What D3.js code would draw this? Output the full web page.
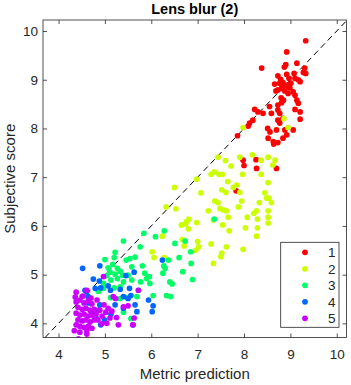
<!DOCTYPE html>
<html>
<head>
<meta charset="utf-8">
<script src="https://cdn.jsdelivr.net/npm/d3@7"></script>
<style>
  body { margin: 0; background: #fff; }
  svg { display: block; font-family: "Liberation Sans", Arial, Helvetica, sans-serif; }
</style>
</head>
<body>
<svg id="chart" width="351" height="385"></svg>
<script>
// ---- data ----
const title = "Lens blur (2)";
const xLabel = "Metric prediction";
const yLabel = "Subjective score";
const groups = ["1", "2", "3", "4", "5"];
const groupColors = ["#ff0000", "#ccff00", "#00ff66", "#0066ff", "#cc00ff"];
const xTicks = [4, 5, 6, 7, 8, 9, 10];
const yTicks = [4, 5, 6, 7, 8, 9, 10];

const group1 = [
  [9.33,9.80],[8.92,9.57],[8.38,9.24],[8.90,9.31],[8.87,9.26],[9.14,9.34],[9.31,9.24],[9.28,9.15],[9.33,9.13],
  [8.73,9.08],[8.79,9.01],[8.92,9.11],[8.97,9.03],[9.08,9.13],[8.66,8.91],[8.77,8.93],[8.84,8.94],[8.90,8.89],
  [8.95,8.86],[9.01,8.93],[9.10,9.03],[9.17,9.00],[8.73,8.79],[8.81,8.82],[8.88,8.77],[8.95,8.72],[9.06,8.75],
  [9.10,8.68],[9.14,8.58],[9.17,8.52],[8.81,8.53],[8.73,8.48],[8.73,8.38],[8.77,8.31],[8.23,8.39],[8.30,8.34],
  [8.41,8.31],[8.55,8.45],[8.59,8.31],[9.10,8.39],[9.21,8.34],[9.21,8.19],[8.19,8.17],[8.12,8.11],[8.09,8.05],
  [8.73,8.17],[8.77,8.11],[8.70,7.97],[8.88,7.97],[8.92,7.87],[8.84,7.80],[9.06,7.97],[8.51,8.00],[8.56,7.93],
  [8.52,7.80],[8.63,7.73],[8.73,7.71],[7.86,7.85],[8.64,7.68],[7.98,7.35],[8.00,7.24],[8.26,7.36],[8.27,7.18],
  [8.70,7.18],[7.83,6.72],[9.21,8.96],[8.82,8.85],[8.99,8.83],[8.69,8.77],[8.84,8.21],[8.85,8.58],[8.80,8.63]
];
const group2 = [
  [7.98,8.02],[8.86,8.20],[8.95,8.02],[7.44,7.41],[7.91,7.41],[8.18,7.46],[8.37,7.35],[8.52,7.41],[8.67,7.35],
  [8.62,7.25],[7.60,7.34],[7.72,7.23],[7.36,7.11],[7.29,7.06],[7.46,7.06],[7.53,7.06],[7.97,7.06],[8.37,7.06],
  [6.98,6.96],[7.65,6.91],[7.84,6.84],[7.77,6.79],[8.52,6.89],[6.50,6.79],[7.52,6.74],[7.61,6.69],[7.91,6.69],
  [7.07,6.68],[8.45,6.68],[8.49,6.57],[8.54,6.57],[8.59,6.48],[7.37,6.51],[7.44,6.48],[7.95,6.51],[6.32,6.39],
  [6.53,6.35],[7.88,6.39],[8.33,6.48],[7.23,6.31],[7.48,6.36],[7.55,6.33],[7.62,6.31],[8.27,6.31],[8.21,6.26],
  [8.52,6.31],[8.07,6.18],[7.66,6.18],[8.29,6.14],[8.52,6.18],[6.81,6.14],[6.76,6.09],[6.65,6.02],[6.74,6.04],
  [6.98,6.07],[7.34,6.12],[7.54,6.02],[8.03,5.96],[8.29,5.96],[8.52,6.06],[6.80,5.94],[7.68,5.90],[8.27,5.79],
  [6.24,5.79],[6.67,5.72],[6.71,5.59],[7.00,5.68],[7.02,5.57],[7.29,5.63],[7.62,5.57],[7.52,5.44],[7.50,5.37],
  [7.98,5.52],[6.02,5.47],[6.06,5.35],[6.28,5.35],[7.34,5.23],[6.96,5.50]
];
const group3 = [
  [5.84,5.85],[6.28,5.90],[6.09,5.78],[5.40,5.69],[5.76,5.57],[5.22,5.46],[5.65,5.36],[5.00,5.31],[6.51,5.64],
  [6.73,5.69],[6.85,5.47],[7.36,6.14],[6.60,5.35],[6.27,5.18],[6.30,5.13],[6.25,5.03],[6.86,5.23],[6.68,5.06],
  [5.86,5.03],[5.90,4.92],[5.96,4.96],[5.97,4.82],[6.40,4.85],[6.45,4.81],[6.89,4.90],[6.33,4.57],[6.42,4.55],
  [6.04,4.57],[5.81,5.18],[6.37,5.30],[5.17,5.21],[5.27,5.13],[5.33,5.07],[5.11,5.05],[5.22,5.01],[5.38,4.99],
  [5.04,4.98],[5.13,4.89],[5.27,4.92],[5.40,4.85],[4.97,4.82],[5.20,4.73],[4.97,4.72],[4.86,4.66],[5.12,4.53],
  [5.33,4.51],[5.47,4.53],[5.40,4.23],[5.56,4.10],[5.69,4.55],[5.58,5.16],[5.46,5.30],[5.54,5.33],[5.50,4.99],
  [5.58,4.89],[5.33,4.75],[5.07,5.14],[5.77,4.85],[5.73,4.68],[5.20,5.35]
];
const group4 = [
  [4.52,5.13],[4.89,5.18],[4.75,4.91],[4.88,4.87],[5.45,4.98],[5.63,5.05],[4.57,4.68],[4.61,4.65],[4.64,4.55],
  [4.79,4.72],[4.91,4.73],[5.07,4.77],[5.12,4.68],[5.33,4.70],[5.53,4.72],[5.56,4.57],[5.50,4.51],[5.40,4.55],
  [4.89,4.38],[4.86,4.27],[5.22,4.38],[5.40,4.31],[5.65,4.38],[5.69,4.24],[4.82,4.10],[4.91,3.97],[4.99,4.07],
  [5.61,3.97],[6.24,5.30],[5.94,4.48],[6.04,4.36],[6.02,4.24],[4.64,4.42],[4.72,4.23],[5.13,4.19]
];
const group5 = [
  [4.38,4.64],[4.61,4.68],[4.97,4.96],[5.18,4.55],[5.23,4.51],[5.72,4.68],[5.50,4.36],[5.40,4.34],[5.25,4.12],
  [5.04,4.00],[4.93,3.99],[5.29,3.97],[5.60,3.97],[5.63,4.11],[4.34,3.85],[4.46,3.82],[4.43,3.68],[4.61,3.78],
  [4.38,4.44],[4.46,4.48],[4.55,4.42],[4.64,4.46],[4.72,4.40],[4.42,4.33],[4.51,4.29],[4.59,4.31],[4.68,4.27],
  [4.77,4.29],[4.38,4.21],[4.46,4.17],[4.55,4.19],[4.64,4.15],[4.72,4.17],[4.81,4.19],[4.42,4.07],[4.51,4.05],
  [4.59,4.07],[4.68,4.03],[4.77,4.07],[4.38,3.97],[4.46,3.94],[4.55,3.92],[4.64,3.94],[4.85,4.07],[4.94,4.15],
  [5.02,4.23],[5.11,4.11],[4.36,4.54],[4.53,4.56],[4.70,4.52],[4.83,4.48],[4.89,4.27],[4.98,4.38],[5.07,4.31],
  [5.15,4.25],[4.61,3.86],[4.72,3.90],[4.51,4.55]
];
const seriesData = [group1, group2, group3, group4, group5];
const xDomain = [3.665, 10.21];
const yDomain = [3.71, 10.226];

// ---- layout ----
const svg = d3.select("#chart");
const mLeft = 43, mRight = 346.5, mTop = 20, mBottom = 337.5;
const axisColor = "#262626";
const dotR = 2.85;

const x = d3.scaleLinear().domain(xDomain).range([mLeft, mRight]);
const y = d3.scaleLinear().domain(yDomain).range([mBottom, mTop]);

svg.append("rect").attr("x", mLeft).attr("y", mTop)
  .attr("width", mRight - mLeft).attr("height", mBottom - mTop).attr("fill", "#fff");

svg.append("clipPath").attr("id", "clip")
  .append("rect").attr("x", mLeft).attr("y", mTop)
  .attr("width", mRight - mLeft).attr("height", mBottom - mTop);

// diagonal y = x
const lo = Math.max(xDomain[0], yDomain[0]);
const hi = Math.min(xDomain[1], yDomain[1]);
svg.append("line")
  .attr("x1", x(lo)).attr("y1", y(lo))
  .attr("x2", x(hi)).attr("y2", y(hi))
  .attr("stroke", "#000").attr("stroke-width", 1)
  .attr("stroke-dasharray", "6,4");

// points
const pts = svg.append("g").attr("clip-path", "url(#clip)");
seriesData.forEach((s, i) => {
  pts.append("g").selectAll("circle").data(s).join("circle")
    .attr("cx", d => x(d[0])).attr("cy", d => y(d[1]))
    .attr("r", dotR).attr("fill", groupColors[i]);
});

// axes
function styleAxis(g) {
  g.select(".domain").remove();
  g.selectAll(".tick line").attr("stroke", axisColor).attr("stroke-width", 0.8);
  g.selectAll(".tick text").attr("fill", axisColor).attr("font-size", "13.5px")
    .attr("font-family", "Liberation Sans, Arial, sans-serif");
}
svg.append("g").attr("transform", `translate(0,${mBottom})`)
  .call(d3.axisBottom(x).tickValues(xTicks).tickSize(-4).tickPadding(11.5).tickFormat(d3.format("d")))
  .call(styleAxis);
svg.append("g").attr("transform", `translate(0,${mTop})`)
  .call(d3.axisTop(x).tickValues(xTicks).tickSize(-4).tickFormat(""))
  .call(styleAxis);
svg.append("g").attr("transform", `translate(${mLeft},0)`)
  .call(d3.axisLeft(y).tickValues(yTicks).tickSize(-4).tickPadding(5).tickFormat(d3.format("d")))
  .call(styleAxis);
svg.append("g").attr("transform", `translate(${mRight},0)`)
  .call(d3.axisRight(y).tickValues(yTicks).tickSize(-4).tickFormat(""))
  .call(styleAxis);

// box
svg.append("rect").attr("x", mLeft).attr("y", mTop)
  .attr("width", mRight - mLeft).attr("height", mBottom - mTop)
  .attr("fill", "none").attr("stroke", axisColor).attr("stroke-width", 0.8);

// title & labels
svg.append("text").attr("x", (mLeft + mRight) / 2).attr("y", 14)
  .attr("text-anchor", "middle").attr("font-weight", "bold").attr("font-size", "14.5px")
  .attr("fill", "#000").text(title);
svg.append("text").attr("x", (mLeft + mRight) / 2).attr("y", 379)
  .attr("text-anchor", "middle").attr("font-size", "15px")
  .attr("fill", axisColor).text(xLabel);
svg.append("text").attr("transform", `translate(14.5,${(mTop + mBottom) / 2}) rotate(-90)`)
  .attr("text-anchor", "middle").attr("font-size", "15px")
  .attr("fill", axisColor).text(yLabel);

// legend
const lg = svg.append("g");
lg.append("rect").attr("x", 280.7).attr("y", 242.3).attr("width", 58.3).attr("height", 85)
  .attr("fill", "#fff").attr("stroke", axisColor).attr("stroke-width", 0.8);
groups.forEach((g, i) => {
  const cy = 252.3 + i * 16.5;
  lg.append("circle").attr("cx", 305).attr("cy", cy).attr("r", dotR).attr("fill", groupColors[i]);
  lg.append("text").attr("x", 335.5).attr("y", cy).attr("dy", "0.35em")
    .attr("text-anchor", "end").attr("font-size", "13.5px").attr("fill", axisColor).text(g);
});
</script>
</body>
</html>
